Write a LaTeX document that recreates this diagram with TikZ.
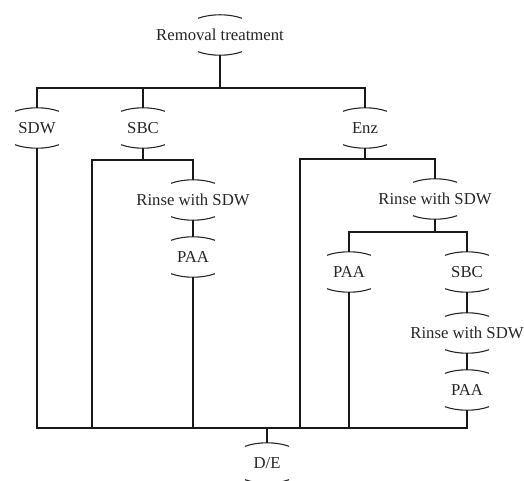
\documentclass[tikz,border=0pt]{standalone}
\usepackage{fontspec}
\setmainfont{Liberation Serif}
\begin{document}
\begin{tikzpicture}[x=1pt,y=-1pt,
  lbl/.style={minimum width=46pt, minimum height=40pt, inner sep=0pt,
    text height=11.5pt, text depth=0pt, font=\fontsize{16.7}{20}\selectfont, text=black!85},
  conn/.style={line width=1.5pt, draw=black!90},
  arcline/.style={line width=1.1pt, draw=black!85}]
\useasboundingbox (0,0) rectangle (524,481);
\fill[white] (0,0) rectangle (524,481);
% label nodes
\node[lbl] (rem) at (220,35) {Removal treatment};
\node[lbl] (sdw) at (37,128) {SDW};
\node[lbl] (sbc) at (143,128) {SBC};
\node[lbl] (enz) at (365,128) {Enz};
\node[lbl] (rin1) at (193,200) {Rinse with SDW};
\node[lbl] (pa1) at (193,257) {PAA};
\node[lbl] (rin2) at (435,199) {Rinse with SDW};
\node[lbl] (pa2) at (349,272) {PAA};
\node[lbl] (sbc2) at (467,272) {SBC};
\node[lbl] (rin3) at (467,333) {Rinse with SDW};
\node[lbl] (pa3) at (467,390) {PAA};
\node[lbl] (de) at (267,463) {D/E};
% arcs
\foreach \n in {rem,sdw,sbc,enz,rin1,pa1,rin2,pa2,sbc2,rin3,pa3,de}{
  \draw[arcline] ([xshift=-22pt,yshift=-3.5pt]\n.north) .. controls ([xshift=-9pt,yshift=1.2pt]\n.north) and ([xshift=9pt,yshift=1.2pt]\n.north) .. ([xshift=22pt,yshift=-3.5pt]\n.north);
  \draw[arcline] ([xshift=-22pt,yshift=3.5pt]\n.south) .. controls ([xshift=-9pt,yshift=-1.2pt]\n.south) and ([xshift=9pt,yshift=-1.2pt]\n.south) .. ([xshift=22pt,yshift=3.5pt]\n.south);
}
% bus coordinates
\coordinate (b1) at (0,88);
\coordinate (sbcL) at (92,160);
\coordinate (enzL) at (300,159);
\coordinate (b3) at (0,232);
\coordinate (bot) at (0,428);
% connectors
\draw[conn] (rem.south) -- (rem.south |- b1);
\draw[conn] (sdw.north) -- (sdw.north |- b1) -| (enz.north);
\draw[conn] (sbc.north) -- (sbc.north |- b1);
\draw[conn] (sbc.south) -- (sbc.south |- sbcL);
\draw[conn] (rin1.north) |- (sbcL) -- (sbcL |- bot);
\draw[conn] (rin1.south) -- (pa1.north);
\draw[conn] (pa1.south) -- (pa1.south |- bot);
\draw[conn] (enz.south) -- (enz.south |- enzL);
\draw[conn] (rin2.north) |- (enzL) -- (enzL |- bot);
\draw[conn] (rin2.south) -- (rin2.south |- b3);
\draw[conn] (pa2.north) -- (pa2.north |- b3) -| (sbc2.north);
\draw[conn] (pa2.south) -- (pa2.south |- bot);
\draw[conn] (sbc2.south) -- (rin3.north);
\draw[conn] (rin3.south) -- (pa3.north);
\draw[conn] (sdw.south) -- (sdw.south |- bot) -| (pa3.south);
\draw[conn] (de.north) -- (de.north |- bot);
\end{tikzpicture}
\end{document}
